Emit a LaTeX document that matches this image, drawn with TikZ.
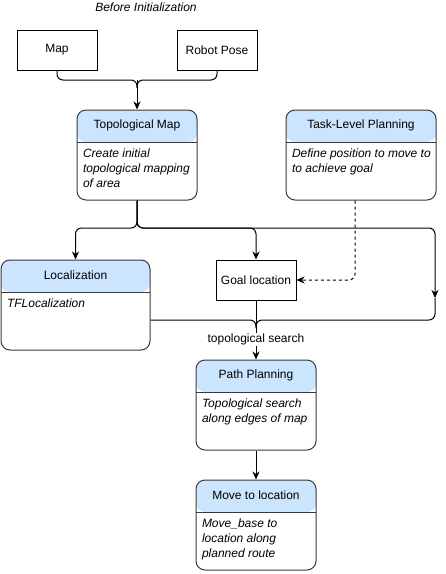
\documentclass[tikz,border=0pt]{standalone}
\usepackage{fontspec}
\setmainfont{Liberation Sans}
\usetikzlibrary{arrows.meta, positioning, calc}
\definecolor{headblue}{HTML}{CCE5FF}
\definecolor{laneline}{HTML}{36393D}

\begin{document}
\begin{tikzpicture}[x=1pt, y=-1pt, line width=1pt,
    font=\fontsize{12}{15}\selectfont,
    box/.style={draw, rectangle, minimum width=80pt, minimum height=40pt, inner sep=0pt},
    lane/.style={draw=laneline, rectangle, rounded corners=9pt, minimum height=90pt, inner sep=0pt,
        path picture={
            \fill[headblue] (path picture bounding box.north west) rectangle ([yshift=-32pt]path picture bounding box.north east);
            \draw[laneline, line width=1pt] ([yshift=-32pt]path picture bounding box.north west) -- ([yshift=-32pt]path picture bounding box.north east);
        }},
    title/.style={inner sep=0pt},
    body/.style={anchor=north west, align=left, inner sep=0pt, font=\fontsize{12}{15}\selectfont\itshape},
    arrow/.style={-{Stealth[length=8pt, width=7pt, inset=2.5pt]}},
    roundbend/.style={rounded corners=6pt}]
    \useasboundingbox (0,0) rectangle (446,574);

    \node (before) [font=\fontsize{12}{15}\selectfont\itshape] at (146,7) {Before Initialization};

    % input boxes
    \node (map) [box] at (57,50) {Map};
    \node (pose) [box] at (217,50) {Robot Pose};

    % lanes
    \node (topo) [lane, minimum width=120pt] at (137,155) {};
    \node [title] at ([yshift=-16pt]topo.north) {Topological Map};
    \node [body] at ([xshift=6pt, yshift=-39pt]topo.north west) {Create initial\\topological mapping\\of area};

    \node (task) [lane, minimum width=150pt] at (361,155) {};
    \node [title] at ([yshift=-16pt]task.north) {Task-Level Planning};
    \node [body] at ([xshift=6pt, yshift=-39pt]task.north west) {Define position to move to\\to achieve goal};

    \node (loc) [lane, minimum width=149pt] at (75.5,305) {};
    \node [title] at ([yshift=-16pt]loc.north) {Localization};
    \node [body] at ([xshift=6pt, yshift=-39pt]loc.north west) {TFLocalization};

    \node (goal) [box] at (256,280) {Goal location};

    \node (plan) [lane, minimum width=120pt] at (256,405) {};
    \node [title] at ([yshift=-16pt]plan.north) {Path Planning};
    \node [body] at ([xshift=6pt, yshift=-39pt]plan.north west) {Topological search\\along edges of map};

    \node (move) [lane, minimum width=120pt] at (256,525) {};
    \node [title] at ([yshift=-16pt]move.north) {Move to location};
    \node [body] at ([xshift=6pt, yshift=-39pt]move.north west) {Move\_base to\\location along\\planned route};

    % joins
    \coordinate (join) at (137,80);
    \coordinate (split) at (137,228);
    \coordinate (rdrop) at (435,298);
    \coordinate (merge) at (256,320);

    % connectors
    \draw[roundbend] (map.south) |- (join) -- ++(0,8);
    \draw[roundbend] (pose.south) |- (join) -- ++(0,8);
    \draw[arrow] (join) -- (topo.north);

    \draw[arrow, roundbend] (topo.south) |- (loc.north |- split) -- (loc.north);
    \draw[arrow, roundbend] (topo.south) |- (goal.north |- split) -- (goal.north);
    \draw[arrow, roundbend] (topo.south) |- (rdrop |- split) -- (rdrop);

    \draw[arrow, roundbend, dash pattern=on 3pt off 3pt] ([xshift=-6pt]task.south) |- (goal.east);

    \draw[roundbend] (loc.east |- merge) -- (merge) -- ++(0,8);
    \draw[roundbend] (rdrop) |- (merge) -- ++(0,8);
    \draw (goal.south) -- (merge);
    \draw[arrow] (merge) -- node[fill=white, inner sep=1pt] {topological search} (plan.north);

    \draw[arrow] (plan.south) -- (move.north);
\end{tikzpicture}
\end{document}
